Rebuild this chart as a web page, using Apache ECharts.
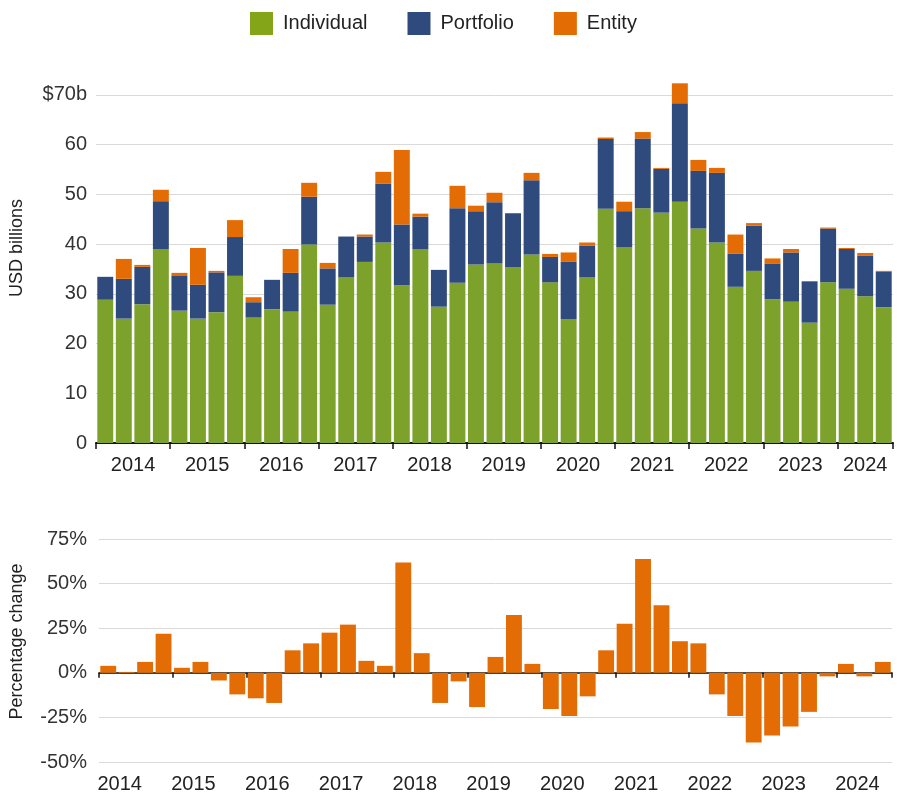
<!DOCTYPE html>
<html>
<head>
<meta charset="utf-8">
<script src="https://cdn.jsdelivr.net/npm/echarts@6/dist/echarts.min.js"></script>
<style>
html, body { margin: 0; padding: 0; background: #fff; }
#main { width: 897px; height: 794px; }
</style>
</head>
<body>
<div id="main"></div>
<script>
var quarters = [
	'2014 Q1','2014 Q2','2014 Q3','2014 Q4','2015 Q1','2015 Q2','2015 Q3','2015 Q4',
	'2016 Q1','2016 Q2','2016 Q3','2016 Q4','2017 Q1','2017 Q2','2017 Q3','2017 Q4',
	'2018 Q1','2018 Q2','2018 Q3','2018 Q4','2019 Q1','2019 Q2','2019 Q3','2019 Q4',
	'2020 Q1','2020 Q2','2020 Q3','2020 Q4','2021 Q1','2021 Q2','2021 Q3','2021 Q4',
	'2022 Q1','2022 Q2','2022 Q3','2022 Q4','2023 Q1','2023 Q2','2023 Q3','2023 Q4',
	'2024 Q1','2024 Q2','2024 Q3'
];

// USD billions
var individual = [28.8,25.0,27.9,39.0, 26.6,25.0,26.3,33.6, 25.2,26.9,26.4,39.9, 27.8,33.3,36.4,40.3,
	31.7,38.9,27.4,32.2, 35.9,36.1,35.4,37.9, 32.3,24.9,33.3,47.1, 39.3,47.2,46.3,48.5,
	43.1,40.3,31.4,34.6, 28.9,28.4,24.2,32.3, 31.0,29.5,27.3];
var portfolio = [4.6,8.0,7.5,9.6, 7.1,6.8,8.0,7.8, 3.1,5.9,7.8,9.6, 7.3,8.2,5.1,11.8,
	12.2,6.6,7.4,15.0, 10.7,12.3,10.8,14.9, 5.1,11.5,6.4,14.0, 7.3,14.0,8.8,19.8,
	11.6,14.0,6.7,9.1, 7.2,9.9,8.3,10.8, 8.0,8.2,7.2];
var entity = [0,4.0,0.4,2.3, 0.5,7.4,0.3,3.4, 1.0,0,4.8,2.8, 1.1,0,0.4,2.4,
	15.0,0.6,0,4.5, 1.1,1.9,0,1.5, 0.6,1.9,0.6,0.3, 1.9,1.3,0.2,4.0,
	2.2,1.0,3.8,0.5, 1.0,0.7,0,0.2, 0.2,0.5,0.1];

// percentage change
var pctChange = [3.9,0.5,6.1,21.9, 2.8,6.1,-4.3,-12.1, -14.3,-16.9,12.6,16.5, 22.5,27.0,6.7,3.9,
	61.8,11.0,-16.9,-4.8, -19.2,8.9,32.4,5.0, -20.3,-24.2,-13.2,12.6, 27.5,63.8,37.9,17.7,
	16.5,-12.1,-24.2,-39.1, -35.2,-30.1,-21.9,-2.0, 5.0,-2.0,6.1];

var font = "'Liberation Sans', Arial, sans-serif";
var green = '#7ca22b', blue = '#2f4a7c', orange = '#e36c04';

// top chart: year label centred in its year (last year has only 3 quarters)
function yearLabelTop(value, index) {
	var y = value.substr(0, 4);
	return index === quarters.length - 2 ? '{e|' + y + '}' : '{s|' + y + '}';
}
// bottom chart: year label starts at the year tick
function yearLabelBottom(value) {
	return '{b|' + value.substr(0, 4) + '}';
}
var yearRich = {
	s : { padding : [0, 0, 0, 18.5], fontSize : 20, color : '#222', fontFamily : font },
	e : { fontSize : 20, color : '#222', fontFamily : font },
	b : { padding : [0, 0, 0, 23], fontSize : 20, color : '#222', fontFamily : font }
};

var myChart = echarts.init(document.getElementById('main'));

var option = {
	animation : false,
	textStyle : { fontFamily : font },
	legend : {
		left : 245,
		top : 7,
		itemWidth : 23,
		itemHeight : 23,
		itemGap : 40,
		icon : 'rect',
		textStyle : { fontSize : 20, color : '#222', fontFamily : font, padding : [0, 0, 0, 5] },
		data : [
			{ name : 'Individual', itemStyle : { color : '#85a519' } },
			'Portfolio',
			'Entity'
		]
	},
	grid : [
		{ left : 96, right : 4, top : 45, bottom : 351 },
		{ left : 99, right : 5, top : 539, bottom : 31 }
	],
	xAxis : [
		{
			type : 'category',
			gridIndex : 0,
			data : quarters,
			axisLine : { lineStyle : { color : '#111', width : 2 } },
			axisTick : {
				show : true,
				length : 6,
				interval : function (i) { return i % 4 === 0; },
				lineStyle : { color : '#111', width : 1.5 }
			},
			axisLabel : {
				margin : 12,
				interval : function (i) { return i % 4 === 1; },
				formatter : yearLabelTop,
				rich : yearRich
			}
		},
		{
			type : 'category',
			gridIndex : 1,
			position : 'bottom',
			data : quarters,
			axisLine : { onZero : true, lineStyle : { color : '#111', width : 1.5 } },
			axisTick : {
				show : true,
				length : 5,
				interval : function (i) { return i % 4 === 0; },
				lineStyle : { color : '#111', width : 1.5 }
			},
			axisLabel : { show : false }
		},
		{
			type : 'category',
			gridIndex : 1,
			position : 'bottom',
			data : quarters,
			axisLine : { show : false, onZero : false },
			axisTick : { show : false },
			axisLabel : {
				margin : 12,
				interval : function (i) { return i % 4 === 0; },
				formatter : yearLabelBottom,
				rich : yearRich
			}
		}
	],
	yAxis : [
		{
			type : 'value',
			gridIndex : 0,
			min : 0,
			max : 80,
			interval : 10,
			name : 'USD billions',
			nameLocation : 'middle',
			nameGap : 70,
			nameTextStyle : { fontSize : 18, color : '#222', fontFamily : font, padding : [0, 8, 0, 0] },
			axisLine : { show : false },
			axisTick : { show : false },
			axisLabel : {
				margin : 9,
				fontSize : 20,
				color : '#333',
				showMaxLabel : false,
				formatter : function (v) { return v === 70 ? '$70b' : v; }
			},
			splitLine : { showMaxLine : false, lineStyle : { color : '#d9d9d9', width : 1 } }
		},
		{
			type : 'value',
			gridIndex : 1,
			min : -50,
			max : 75,
			interval : 25,
			name : 'Percentage change',
			nameLocation : 'middle',
			nameGap : 73,
			nameTextStyle : { fontSize : 18, color : '#222', fontFamily : font, padding : [0, 0, 0, 18] },
			axisLine : { show : false },
			axisTick : { show : false },
			axisLabel : {
				margin : 12,
				fontSize : 20,
				color : '#333',
				formatter : '{value}%'
			},
			splitLine : { lineStyle : { color : '#d9d9d9', width : 1 } }
		}
	],
	series : [
		{
			name : 'Individual',
			type : 'bar',
			stack : 'total',
			xAxisIndex : 0,
			yAxisIndex : 0,
			barCategoryGap : '14%',
			itemStyle : { color : green },
			data : individual
		},
		{
			name : 'Portfolio',
			type : 'bar',
			stack : 'total',
			xAxisIndex : 0,
			yAxisIndex : 0,
			barCategoryGap : '14%',
			itemStyle : { color : blue },
			data : portfolio
		},
		{
			name : 'Entity',
			type : 'bar',
			stack : 'total',
			xAxisIndex : 0,
			yAxisIndex : 0,
			barCategoryGap : '14%',
			itemStyle : { color : orange },
			data : entity
		},
		{
			name : 'Percentage change',
			type : 'bar',
			xAxisIndex : 1,
			yAxisIndex : 1,
			barCategoryGap : '14%',
			itemStyle : { color : orange },
			data : pctChange
		}
	]
};

myChart.setOption(option);
</script>
</body>
</html>
